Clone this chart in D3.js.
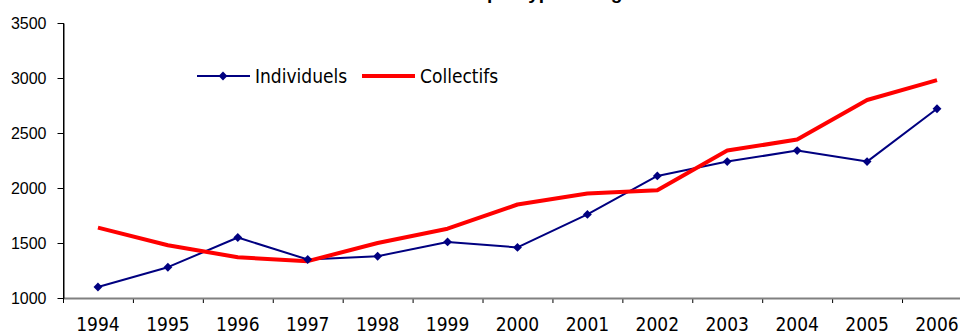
<!DOCTYPE html>
<html>
<head>
<meta charset="utf-8">
<script src="https://cdn.jsdelivr.net/npm/d3@7"></script>
<style>
  html, body { margin: 0; padding: 0; background: #fff; overflow: hidden; }
  svg { display: block; }
</style>
</head>
<body>
<svg id="chart" width="960" height="334"></svg>
<script>
// Annual sales, individual vs. collective housing
const years = ["1994","1995","1996","1997","1998","1999","2000","2001","2002","2003","2004","2005","2006"];
const individuels = [1100, 1280, 1550, 1350, 1380, 1510, 1460, 1760, 2110, 2240, 2340, 2240, 2720];
const collectifs  = [1640, 1480, 1370, 1335, 1500, 1630, 1850, 1950, 1980, 2340, 2440, 2800, 2980];
const yTicks = [1000, 1500, 2000, 2500, 3000, 3500];
const seriesNames = ["Individuels", "Collectifs"];
const titleText = "Evolution des ventes par type de logement";

const svg = d3.select("#chart");
const W = 960, H = 334;
const plotLeft = 63, plotBottom = 298, plotTop = 23;
const step = 69.92;

const x = d3.scaleBand().domain(years).range([plotLeft, plotLeft + step * years.length]).padding(0);
const y = d3.scaleLinear().domain([1000, 3500]).range([plotBottom, plotTop]);
const cx = d => x(d) + x.bandwidth() / 2;

const labelFont = "'DejaVu Sans Condensed', 'DejaVu Sans', Verdana, sans-serif";

// Title, sitting mostly above the top edge of the drawing
svg.append("text")
  .attr("x", 485).attr("y", -1.5)
  .attr("text-anchor", "middle")
  .attr("font-family", "'Liberation Sans', Arial, sans-serif")
  .attr("font-weight", "bold")
  .attr("font-size", 19)
  .attr("fill", "#000")
  .text(titleText);

// X axis: labels at category centres, ticks at category boundaries
const xAxis = svg.append("g").attr("transform", `translate(0,${plotBottom})`)
  .call(d3.axisBottom(x).tickSize(0).tickPadding(0));
xAxis.select(".domain").remove();
xAxis.selectAll("text")
  .attr("y", 33).attr("dy", 0)
  .attr("font-family", labelFont)
  .attr("font-stretch", "condensed")
  .attr("font-size", 19)
  .attr("fill", "#000");

svg.append("g").selectAll("line").data(years.slice(1))
  .join("line")
  .attr("x1", d => x(d) + 0.5).attr("x2", d => x(d) + 0.5)
  .attr("y1", plotBottom).attr("y2", plotBottom + 5)
  .attr("stroke", "#000").attr("stroke-width", 1);

svg.append("line")
  .attr("x1", plotLeft).attr("x2", W)
  .attr("y1", plotBottom + 0.5).attr("y2", plotBottom + 0.5)
  .attr("stroke", "#808080").attr("stroke-width", 2);

// Y axis
const yAxis = svg.append("g").attr("transform", `translate(${plotLeft + 0.5},0)`)
  .call(d3.axisLeft(y).tickValues(yTicks).tickFormat(d3.format("d"))
    .tickSize(6).tickSizeOuter(0).tickPadding(11));
yAxis.select(".domain").attr("stroke", "#000");
yAxis.selectAll(".tick line").attr("stroke", "#000");
yAxis.selectAll("text")
  .attr("font-family", "'Liberation Sans', Arial, sans-serif")
  .attr("font-size", 16)
  .attr("fill", "#000");
yAxis.append("line")
  .attr("x1", 0).attr("x2", 0).attr("y1", plotTop).attr("y2", plotBottom + 5)
  .attr("stroke", "#000");

// Lines
const line = d3.line().x((d, i) => cx(years[i])).y(d => y(d));

svg.append("path").datum(individuels)
  .attr("d", line)
  .attr("fill", "none").attr("stroke", "#000080").attr("stroke-width", 2)
  .attr("stroke-linejoin", "round");

svg.append("path").datum(collectifs)
  .attr("d", line)
  .attr("fill", "none").attr("stroke", "#FF0000").attr("stroke-width", 4)
  .attr("stroke-linejoin", "round");

const diamond = d3.symbol().type(d3.symbolDiamond2).size(50);
svg.append("g").selectAll("path").data(individuels)
  .join("path")
  .attr("d", diamond)
  .attr("transform", (d, i) => `translate(${cx(years[i])},${y(d)})`)
  .attr("fill", "#000080");

// Legend
const legend = svg.append("g").attr("font-family", labelFont).attr("font-stretch", "condensed").attr("font-size", 19);
legend.append("line").attr("x1", 197).attr("x2", 250).attr("y1", 76).attr("y2", 76)
  .attr("stroke", "#000080").attr("stroke-width", 2);
legend.append("path").attr("d", diamond).attr("transform", "translate(223,76)").attr("fill", "#000080");
legend.append("text").attr("x", 255).attr("y", 82.5).text(seriesNames[0]);
legend.append("line").attr("x1", 362).attr("x2", 415).attr("y1", 76).attr("y2", 76)
  .attr("stroke", "#FF0000").attr("stroke-width", 4);
legend.append("text").attr("x", 420).attr("y", 82.5).text(seriesNames[1]);
</script>
</body>
</html>
